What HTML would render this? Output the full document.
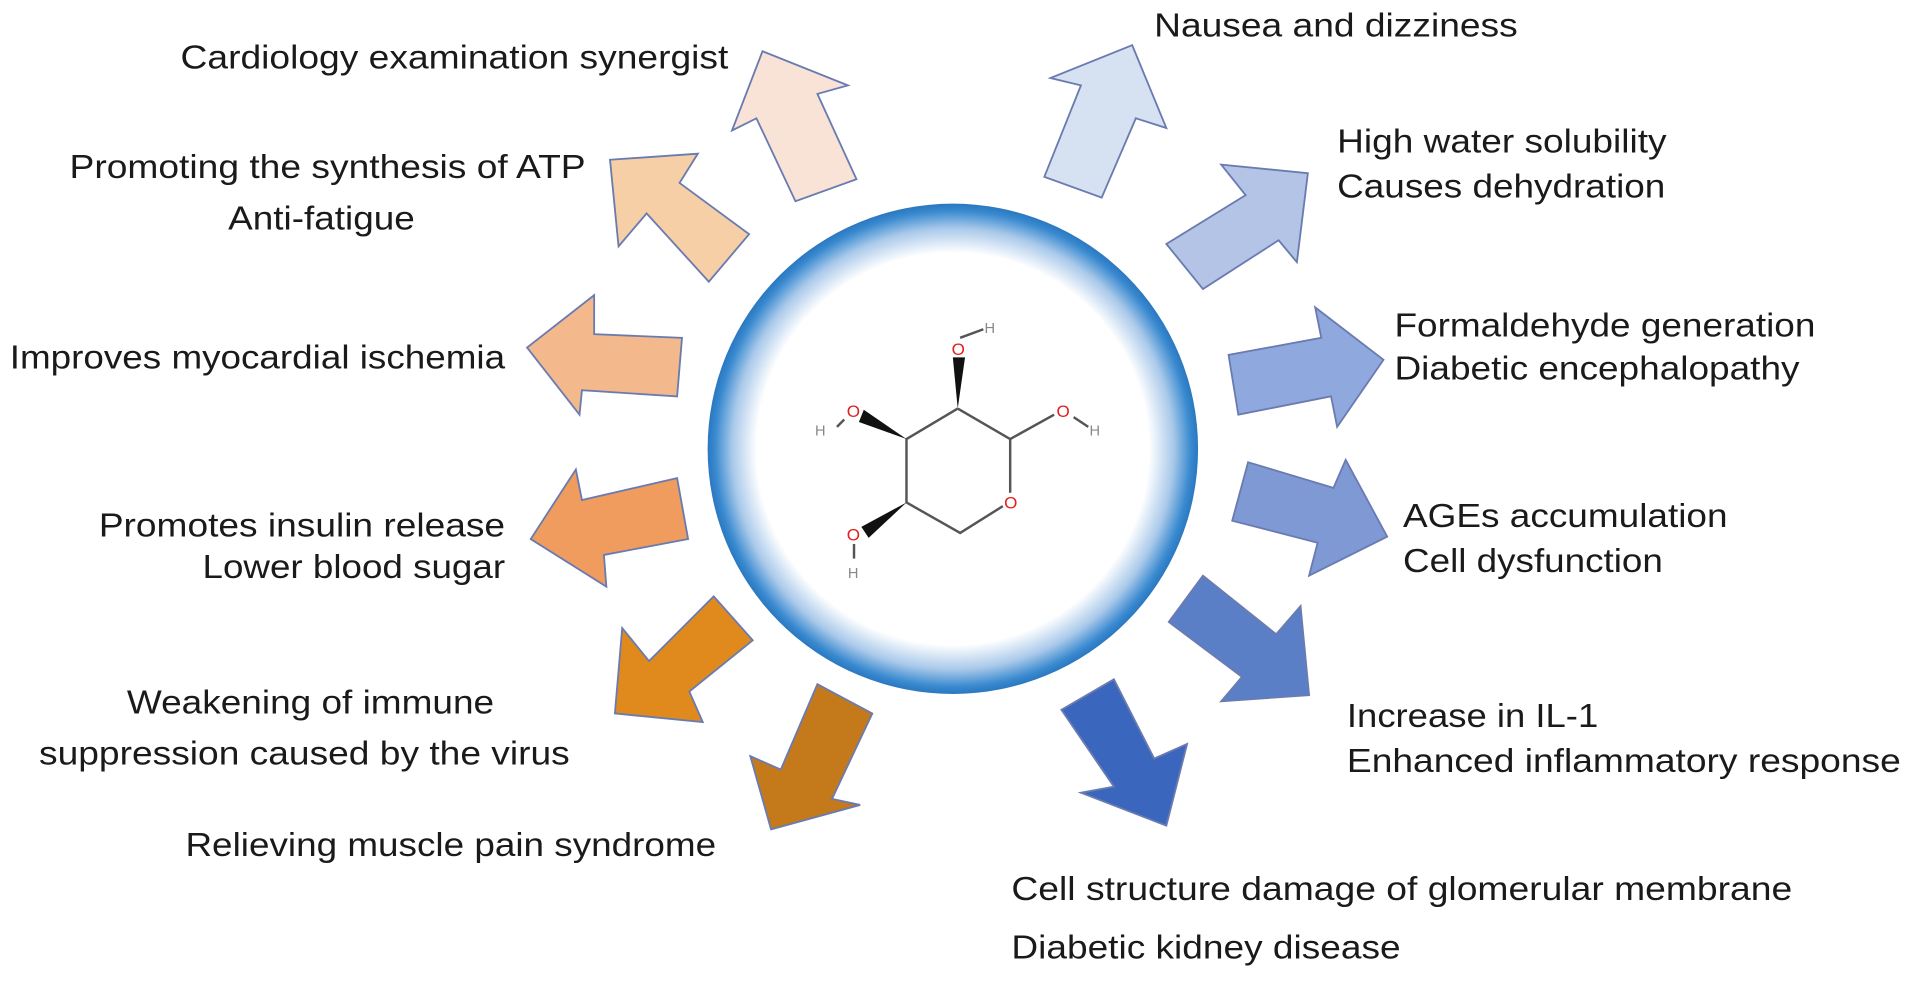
<!DOCTYPE html>
<html><head><meta charset="utf-8"><style>
html,body{margin:0;padding:0;background:#fff;width:1913px;height:983px;overflow:hidden}
svg{display:block}
text{font-family:"Liberation Sans",Arial,sans-serif;font-size:27px;fill:#1a1a1a}
.a{stroke:#6a7bb0;stroke-width:1.5;stroke-linejoin:miter}
</style></head><body>
<svg width="1913" height="983" viewBox="0 0 1568 806" preserveAspectRatio="none">
<defs>
<radialGradient id="rg" cx="781" cy="368" r="201" gradientUnits="userSpaceOnUse">
<stop offset="0" stop-color="#fff"/>
<stop offset="0.8" stop-color="#fff"/>
<stop offset="0.9" stop-color="#a9c9ea"/>
<stop offset="0.97" stop-color="#3a8ad0"/>
<stop offset="1" stop-color="#2a78c0"/>
</radialGradient>
</defs>
<circle cx="781" cy="368" r="201" fill="url(#rg)"/>
<!-- left arrows -->
<polygon class="a" fill="#f9e3d6" points="625,42 695,70 670,77 702,147 652,165 620,97 600,107"/>
<polygon class="a" fill="#f6cfa6" points="500,131 572,126 557,150 614,192 581,231 530,175 507,202"/>
<polygon class="a" fill="#f3b88b" points="432,285 487,242 487,274 559,277 555,325 477,320 475,340"/>
<polygon class="a" fill="#f09c5e" points="435,442 472,385 477,410 555,392 564,442 495,455 497,481"/>
<polygon class="a" fill="#e08a1e" points="585,489 617,525 565,567 576,592 504,585 510,515 532,542"/>
<polygon class="a" fill="#c47a1a" points="670,561 715,585 682,655 705,660 632,680 615,620 640,631"/>
<!-- right arrows -->
<polygon class="a" fill="#d6e1f2" points="928,37 956,105 931,97 903,162 856,145 886,70 861,64"/>
<polygon class="a" fill="#b3c4e6" points="1072,142 1063,215 1048,197 986,237 956,200 1021,160 1001,135"/>
<polygon class="a" fill="#8fa8dd" points="1134,295 1096,350 1091,325 1015,340 1007,291 1083,277 1078,252"/>
<polygon class="a" fill="#7f99d4" points="1137,440 1073,472 1080,445 1010,427 1023,379 1093,400 1103,377"/>
<polygon class="a" fill="#5b7fc7" points="986,472 958,510 1018,555 1001,575 1073,570 1066,497 1046,520"/>
<polygon class="a" fill="#3a66bd" points="913,557 870,582 913,645 886,650 956,677 973,610 946,622"/>
<!-- molecule -->
<g stroke="#555" stroke-width="2" fill="none">
<polyline points="785,335 828,360 828,404"/>
<polyline points="822,415 787,437 743,412 743,360 785,335"/>
<line x1="828" y1="360" x2="864" y2="340"/>
<line x1="880" y1="342" x2="892" y2="350"/>
<line x1="787" y1="277" x2="806" y2="270"/>
<line x1="686" y1="350" x2="692" y2="344"/>
<line x1="700" y1="446" x2="700" y2="458"/>
</g>
<polygon fill="#111" points="785,335 781,293 791,293"/>
<polygon fill="#111" points="743,360 708,336 704,346"/>
<polygon fill="#111" points="743,412 706,432 712,441"/>
<g font-family="Liberation Sans,sans-serif" font-size="13" fill="#e02020" style="font-size:13px">
<text x="780" y="291" style="font-size:14px;fill:#e02020">O</text>
<text x="866" y="342" style="font-size:14px;fill:#e02020">O</text>
<text x="823" y="417" style="font-size:14px;fill:#e02020">O</text>
<text x="694" y="342" style="font-size:14px;fill:#e02020">O</text>
<text x="694" y="443" style="font-size:14px;fill:#e02020">O</text>
</g>
<text x="807" y="273" style="font-size:12px;fill:#888">H</text>
<text x="893" y="357" style="font-size:12px;fill:#888">H</text>
<text x="668" y="357" style="font-size:12px;fill:#888">H</text>
<text x="695" y="474" style="font-size:12px;fill:#888">H</text>
<!-- labels -->
<text x="148" y="56" textLength="449" lengthAdjust="spacingAndGlyphs">Cardiology examination synergist</text>
<text x="57" y="146" textLength="423" lengthAdjust="spacingAndGlyphs">Promoting the synthesis of ATP</text>
<text x="187" y="188" textLength="153" lengthAdjust="spacingAndGlyphs">Anti-fatigue</text>
<text x="8" y="302" textLength="406" lengthAdjust="spacingAndGlyphs">Improves myocardial ischemia</text>
<text x="81" y="440" textLength="333" lengthAdjust="spacingAndGlyphs">Promotes insulin release</text>
<text x="166" y="474" textLength="248" lengthAdjust="spacingAndGlyphs">Lower blood sugar</text>
<text x="104" y="585" textLength="301" lengthAdjust="spacingAndGlyphs">Weakening of immune</text>
<text x="32" y="627" textLength="435" lengthAdjust="spacingAndGlyphs">suppression caused by the virus</text>
<text x="152" y="702" textLength="435" lengthAdjust="spacingAndGlyphs">Relieving muscle pain syndrome</text>
<text x="946" y="30" textLength="298" lengthAdjust="spacingAndGlyphs">Nausea and dizziness</text>
<text x="1096" y="125" textLength="270" lengthAdjust="spacingAndGlyphs">High water solubility</text>
<text x="1096" y="162" textLength="269" lengthAdjust="spacingAndGlyphs">Causes dehydration</text>
<text x="1143" y="276" textLength="345" lengthAdjust="spacingAndGlyphs">Formaldehyde generation</text>
<text x="1143" y="311" textLength="332" lengthAdjust="spacingAndGlyphs">Diabetic encephalopathy</text>
<text x="1150" y="432" textLength="266" lengthAdjust="spacingAndGlyphs">AGEs accumulation</text>
<text x="1150" y="469" textLength="213" lengthAdjust="spacingAndGlyphs">Cell dysfunction</text>
<text x="1104" y="596" textLength="206" lengthAdjust="spacingAndGlyphs">Increase in IL-1</text>
<text x="1104" y="633" textLength="454" lengthAdjust="spacingAndGlyphs">Enhanced inflammatory response</text>
<text x="829" y="738" textLength="640" lengthAdjust="spacingAndGlyphs">Cell structure damage of glomerular membrane</text>
<text x="829" y="786" textLength="319" lengthAdjust="spacingAndGlyphs">Diabetic kidney disease</text>
</svg>
</body></html>
